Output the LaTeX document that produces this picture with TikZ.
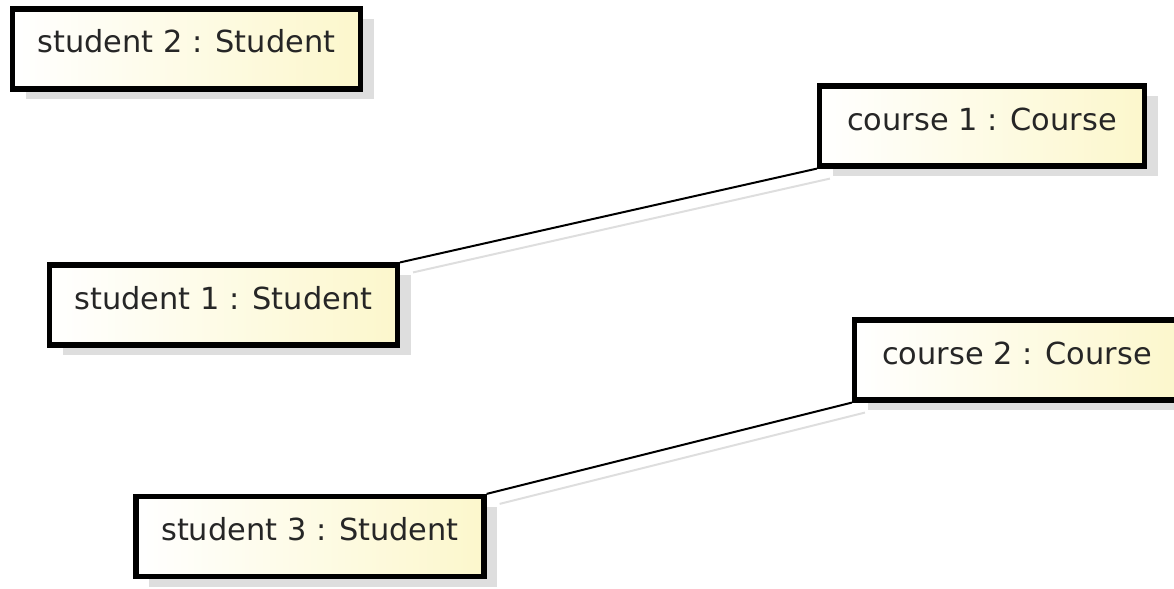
\documentclass[tikz,border=0pt]{standalone}
\usepackage{fontspec}
\setmainfont{DejaVu Sans}
\usetikzlibrary{shadows}
\definecolor{objyellow}{RGB}{252,247,204}
\definecolor{shadowgray}{RGB}{222,222,222}
\tikzset{
	objbox/.style={draw=black, line width=2.6pt, rectangle, minimum height=40pt,
		left color=white, right color=objyellow, text=black!85,
		font=\fontsize{15.2}{18}\selectfont, text height=11.5pt, text depth=7.5pt,
		drop shadow={shadow xshift=6.5pt, shadow yshift=-5pt, fill=shadowgray, opacity=1}},
	studentbox/.style={objbox, minimum width=174pt},
	coursebox/.style={objbox, minimum width=162.5pt},
	link/.style={line width=1pt, black},
	linkshadow/.style={line width=1pt, shadowgray}
}
\begin{document}
\begin{tikzpicture}[x=0.5pt, y=-0.5pt]
			%%%%% START %%%%%
			\useasboundingbox (0, 0) rectangle (1174, 589);
			\clip (0, 0) rectangle (1174, 589);
			
			\node[studentbox] (s2) at (186.5, 49) {student 2 : Student};
			\node[coursebox] (c1) at (982, 126) {course 1 : Course};
			\node[studentbox] (s1) at (223.5, 305) {student 1 : Student};
			\node[coursebox] (c2) at (1017, 360) {course 2 : Course};
			\node[studentbox] (s3) at (310, 536.5) {student 3 : Student};
			
			\draw[linkshadow] ([shift={(13, 10)}]s1.north east) -- ([shift={(13, 10)}]c1.south west);
			\draw[linkshadow] ([shift={(13, 10)}]s3.north east) -- ([shift={(13, 10)}]c2.south west);
			
			\draw[link] (s1.north east) -- (c1.south west);
			\draw[link] (s3.north east) -- (c2.south west);
			
			%%%%% END %%%%%
\end{tikzpicture}
\end{document}
